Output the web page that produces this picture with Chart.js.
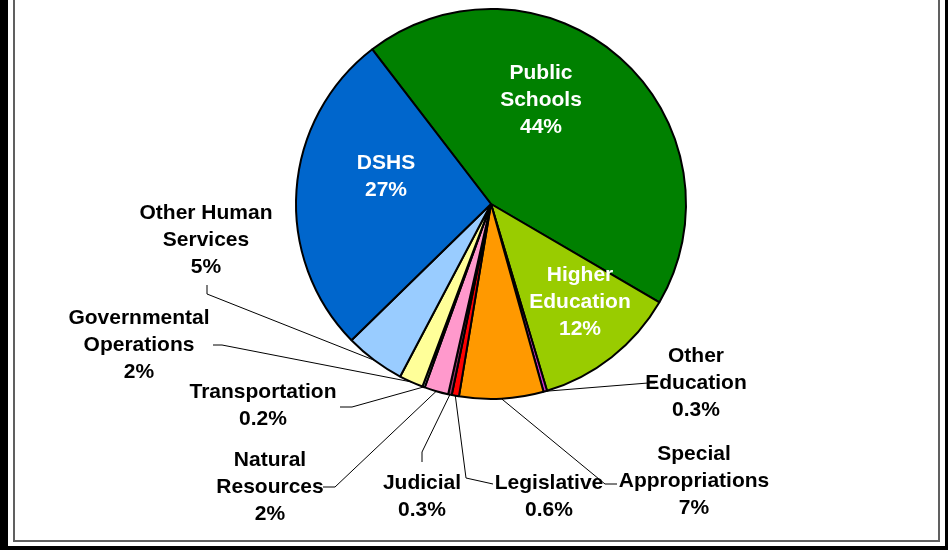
<!DOCTYPE html>
<html>
<head>
<meta charset="utf-8">
<script src="https://cdn.jsdelivr.net/npm/chart.js@4.4.1/dist/chart.umd.min.js"></script>
<style>
  html, body { margin: 0; padding: 0; background: #fff; }
  #wrap { position: relative; width: 948px; height: 550px; overflow: hidden; }
  #c { position: absolute; left: 0; top: 0; }
  .f { position: absolute; }
</style>
</head>
<body>
<div id="wrap">
  <canvas id="c" width="948" height="550"></canvas>
  <!-- marco exterior negro + línea gris interior -->
  <div class="f" style="left:0;top:0;width:8px;height:550px;background:#000"></div>
  <div class="f" style="left:945px;top:0;width:3px;height:550px;background:#000"></div>
  <div class="f" style="left:0;top:546px;width:948px;height:4px;background:#000"></div>
  <div class="f" style="left:13px;top:0;width:2px;height:542px;background:#606060"></div>
  <div class="f" style="left:938px;top:0;width:2px;height:542px;background:#606060"></div>
  <div class="f" style="left:13px;top:540px;width:927px;height:2px;background:#606060"></div>
</div>
<script>
const categories = ['Public Schools', 'Higher Education', 'Other Education', 'Special Appropriations',
  'Legislative', 'Judicial', 'Natural Resources', 'Transportation', 'Governmental Operations',
  'Other Human Services', 'DSHS'];
const values = [44, 12, 0.3, 7, 0.6, 0.3, 2, 0.2, 2, 5, 27];
const pctLabels = ['44%', '12%', '0.3%', '7%', '0.6%', '0.3%', '2%', '0.2%', '2%', '5%', '27%'];
const colors = ['#008000', '#99CC00', '#CC33CC', '#FF9900', '#FF0000', '#993366',
  '#FF99CC', '#CCFFFF', '#FFFF99', '#99CCFF', '#0066CC'];

// colocación de etiquetas: líneas de texto, centro, color, y codo de la guía (si hay)
const labelLayout = [
  { lines: ['Public', 'Schools'], x: 541, y: 100, color: '#fff' },
  { lines: ['Higher', 'Education'], x: 580, y: 302, color: '#fff' },
  { lines: ['Other', 'Education'], x: 696, y: 383, color: '#000', leader: [[648, 383], [655, 383]] },
  { lines: ['Special', 'Appropriations'], x: 694, y: 481, color: '#000', leader: [[605, 484], [617, 484]] },
  { lines: ['Legislative'], x: 549, y: 497, color: '#000', leader: [[466, 478], [493, 484]] },
  { lines: ['Judicial'], x: 422, y: 497, color: '#000', leader: [[422, 452], [422, 462]] },
  { lines: ['Natural', 'Resources'], x: 270, y: 487, color: '#000', leader: [[335, 487], [323, 487]] },
  { lines: ['Transportation'], x: 263, y: 406, color: '#000', leader: [[352, 407], [340, 407]] },
  { lines: ['Governmental', 'Operations'], x: 139, y: 345, color: '#000', leader: [[222, 345], [213, 345]] },
  { lines: ['Other Human', 'Services'], x: 206, y: 240, color: '#000', leader: [[207, 294], [207, 285]] },
  { lines: ['DSHS'], x: 386, y: 177, color: '#fff' },
];

const labelPlugin = {
  id: 'pieLabels',
  afterDatasetsDraw(chart) {
    const ctx = chart.ctx;
    const arcs = chart.getDatasetMeta(0).data;
    ctx.save();
    ctx.font = 'bold 21px "Liberation Sans", Arial, sans-serif';
    ctx.textAlign = 'center';
    ctx.textBaseline = 'middle';
    arcs.forEach((arc, i) => {
      const L = labelLayout[i];
      if (L.leader) {
        const p = arc.getProps(['x', 'y', 'startAngle', 'endAngle', 'outerRadius'], true);
        const a = (p.startAngle + p.endAngle) / 2;
        ctx.beginPath();
        ctx.moveTo(p.x + Math.cos(a) * p.outerRadius, p.y + Math.sin(a) * p.outerRadius);
        L.leader.forEach(pt => ctx.lineTo(pt[0], pt[1]));
        ctx.strokeStyle = '#000';
        ctx.lineWidth = 1;
        ctx.stroke();
      }
      const lines = L.lines.concat([pctLabels[i]]);
      const lh = 27;
      const y0 = L.y - (lines.length - 1) * lh / 2;
      ctx.fillStyle = L.color;
      lines.forEach((t, k) => ctx.fillText(t, L.x, y0 + k * lh));
    });
    ctx.restore();
  }
};

new Chart(document.getElementById('c'), {
  type: 'pie',
  data: {
    labels: categories,
    datasets: [{
      data: values,
      backgroundColor: colors,
      borderColor: '#000',
      borderWidth: 2,
    }]
  },
  options: {
    responsive: false,
    animation: false,
    rotation: -37.5,
    layout: { padding: { left: 295, right: 261, top: 8, bottom: 150 } },
    plugins: { legend: { display: false }, tooltip: { enabled: false } },
  },
  plugins: [labelPlugin]
});
</script>
</body>
</html>
